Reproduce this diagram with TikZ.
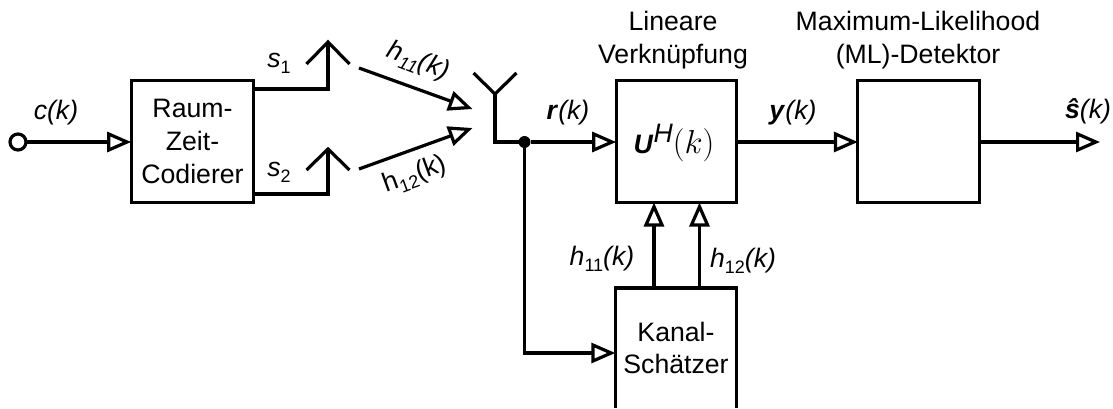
\documentclass[tikz,border=0pt]{standalone}
\usepackage{fontspec}
\usepackage{graphicx}
\setmainfont{Liberation Sans}
\usetikzlibrary{arrows.meta}
\tikzset{
  x=0.75pt,y=-0.75pt,
  wire/.style={line width=2.4pt,line join=miter},
  sig/.style={wire,-{Triangle[open,length=18pt,width=15pt,line width=2.4pt]}},
  block/.style={draw,line width=2.4pt,inner sep=0pt,outer sep=0pt,align=center,font=\fontsize{20}{24.5}\selectfont},
  txt/.style={inner sep=0pt,outer sep=0pt,align=center,font=\fontsize{20}{24.6}\selectfont},
  lab/.style={inner sep=0pt,outer sep=0pt,font=\fontsize{20}{22}\selectfont}
}
\newcommand{\sbs}[1]{\raisebox{-.22em}{\fontsize{13.5}{13.5}\selectfont #1}}
\begin{document}
\begin{tikzpicture}
\useasboundingbox (0,0) rectangle (1113,408);
% blocks
\node[block,minimum width=92pt,minimum height=91.5pt] (raum) at (192.5,141.5) {Raum-\\Zeit-\\Codierer};
\node[block,minimum width=90.5pt,minimum height=91.5pt] (lin) at (676.5,141.5) {};
\node[block,minimum width=91pt,minimum height=91.5pt] (ml) at (918.5,141.5) {};
\node[inner sep=0pt,outer sep=0pt,minimum width=91pt,minimum height=90pt,align=center,font=\fontsize{20}{24}\selectfont] (kanal) at (676,348) {Kanal-\\Schätzer};
\draw[wire,line join=miter] (kanal.south west) -- (kanal.north west) -- (kanal.north east) -- (kanal.south east);
% input
\node[draw,circle,line width=2.4pt,minimum size=12pt,inner sep=0pt,outer sep=0pt] (in) at (18,142) {};
\draw[sig] (in) -- (raum.west |- in);
% tx antennas
\coordinate (a1) at (328,42); \coordinate (a1l) at (306.5,64); \coordinate (a1r) at (349.5,64);
\coordinate (b1) at (328,89);
\coordinate (a2) at (328,149); \coordinate (a2l) at (306.5,170); \coordinate (a2r) at (349.5,170);
\coordinate (b2) at (328,194);
\draw[wire] (raum.east |- b1) -- (b1) -- (a1);
\draw[wire] (a1l) -- (a1) -- (a1r);
\draw[wire] (raum.east |- b2) -- (b2) -- (a2);
\draw[wire] (a2l) -- (a2) -- (a2r);
% channel arrows
\coordinate (h1s) at (359,68); \coordinate (h1e) at (472.5,109);
\coordinate (h2s) at (359,169); \coordinate (h2e) at (472.5,128);
\draw[sig] (h1s) -- (h1e);
\draw[sig] (h2s) -- (h2e);
% rx antenna
\coordinate (r0) at (495,94); \coordinate (rl) at (473.5,73); \coordinate (rr) at (516.5,73);
\coordinate (r1) at (495,142);
\node[circle,fill=black,minimum size=9pt,inner sep=0pt,outer sep=0pt] (j) at (524.5,142) {};
\draw[wire] (rl) -- (r0) -- (rr);
\draw[wire] (r0) -- (r1) -- (j);
\draw[sig] (j) -- (lin.west |- j);
\draw[sig] (j) |- (kanal.west |- 0,353);
\draw[sig] (lin.east |- j) -- (ml.west |- j);
\coordinate (out) at (1100,142);
\draw[sig] (ml.east |- out) -- (out);
% feedback
\coordinate (f1) at (654,288); \coordinate (f2) at (699.5,288);
\draw[sig] (f1) -- (f1 |- lin.south);
\draw[sig] (f2) -- (f2 |- lin.south);
% labels
\node[lab] (lc) at (56,113) {\textit{c(k)}};
\node[lab] (ls1) at (279,63) {\textit{s}\sbs{1}};
\node[lab] (ls2) at (279,172) {\textit{s}\sbs{2}};
\node[lab,rotate=-21] (lh11) at (418,62) {\textit{h}\sbs{\textit{11}}\textit{(k)}};
\node[lab,rotate=20] (lh12) at (415,175) {h\sbs{12}(k)};
\node[lab] (lr) at (568,113) {\textbf{\textit{r}}\textit{(k)}};
\node[lab] (ly) at (793,113) {\textbf{\textit{y}}\textit{(k)}};
\node[lab] (lu) at (674,143) {\textbf{\textit{U}}\raisebox{.42em}{\textit{H}}\scalebox{1.2}{$(k)$}};
\node[lab] (ls) at (1088,111) {\textbf{\textit{ŝ}}\textit{(k)}};
\node[txt] (tlin) at (673,40) {Lineare\\Verknüpfung};
\node[txt] (tml) at (918,40) {Maximum-Likelihood\\(ML)-Detektor};
\node[lab] (lh11b) at (602,259) {\textit{h}\sbs{11}\textit{(k)}};
\node[lab] (lh12b) at (743,261) {\textit{h}\sbs{12}\textit{(k)}};
\end{tikzpicture}
\end{document}
